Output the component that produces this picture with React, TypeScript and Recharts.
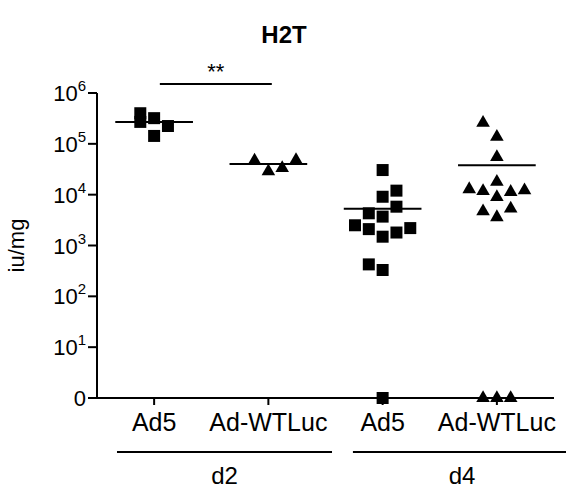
import React from "react";
import { ScatterChart, Scatter, XAxis, YAxis, ReferenceLine, ReferenceDot, Symbols } from "recharts";

const FONT = "Arial, 'Liberation Sans', sans-serif";

// categories along the x axis
const groups = ["Ad5", "Ad-WTLuc", "Ad5", "Ad-WTLuc"];
const days = ["d2", "d4"];
const yTicks = [1, 10, 100, 1e3, 1e4, 1e5, 1e6];

// iu/mg per animal (0 = below detection), with the jitter column used in the dot plot
const d2Ad5 = [4.0e5, 2.7e5, 3.2e5, 1.43e5, 2.24e5];
const d2Ad5Col = [-1, -1, 0, 0, 1];
const d2WT = [4.7e4, 2.88e4, 3.35e4, 4.8e4];
const d2WTCol = [-1, 0, 1, 2];
const d4Ad5 = [3.05e4, 1.2e4, 9.1e3, 5.8e3, 4.3e3, 3.7e3, 2.5e3, 2.1e3, 2.2e3, 1.8e3, 1.49e3, 425, 330, 0];
const d4Ad5Col = [0, 1, 0, 1, -1, 0, -2, -1, 2, 1, 0, -1, 0, 0];
const d4WT = [2.6e5, 1.37e5, 5.5e4, 1.78e4, 1.28e4, 1.17e4, 1.13e4, 1.22e4, 9.0e3, 5.3e3, 4.7e3, 3.6e3, 0, 0, 0];
const d4WTCol = [-1, 0, 0, 0, -2, -1, 1, 2, 0, 1, -1, 0, -1, 0, 1];

// group means (horizontal bars)
const means = [2.7e5, 4.0e4, 5.3e3, 3.8e4];

// day brackets under the axis: [from, to]
const dayBrackets = [
  [0.675, 2.557],
  [2.74, 4.65],
];

const JITTER = 0.121;
const MEAN_HALF = 0.34;
const BRACKET_Y = 0.0865;
const DAY_LABEL_Y = 0.03;
const SQ = 144;
const TRI = 80;

type Shape = "square" | "triangle";
const series: { g: number; vals: number[]; cols: number[]; shape: Shape }[] = [
  { g: 1, vals: d2Ad5, cols: d2Ad5Col, shape: "square" },
  { g: 2, vals: d2WT, cols: d2WTCol, shape: "triangle" },
  { g: 3, vals: d4Ad5, cols: d4Ad5Col, shape: "square" },
  { g: 4, vals: d4WT, cols: d4WTCol, shape: "triangle" },
];

// values of 0 sit on the "0" tick (bottom of the log axis)
const toPoints = (g: number, vals: number[], cols: number[], zero: boolean) =>
  vals
    .map((v, i) => ({ x: g + cols[i] * JITTER, y: v === 0 ? 1 : v, zero: v === 0 }))
    .filter((p) => p.zero === zero);

const marker = (shape: Shape) => (props: any) => (
  <Symbols cx={props.cx} cy={props.cy} type={shape} size={shape === "square" ? SQ : TRI} fill="#000" />
);

const YTick = ({ x, y, payload }: any) => {
  const v = payload.value;
  if (v === 1)
    return (
      <text x={x} y={y} dy={8} textAnchor="end" fontSize={22} fill="#000" fontFamily={FONT}>0</text>
    );
  const exp = Math.round(Math.log10(v));
  return (
    <text x={x} y={y} dy={8} textAnchor="end" fill="#000" fontFamily={FONT}>
      <tspan fontSize={22}>10</tspan>
      <tspan fontSize={15} dy={-10}>{exp}</tspan>
    </text>
  );
};

export default function App() {
  const axisStroke = { stroke: "#000", strokeWidth: 2 };
  return (
    <div style={{ position: "absolute", left: 0, top: 0, width: 566, height: 495, background: "#fff", fontFamily: FONT }}>
      <div style={{ position: "absolute", left: 0, width: 566, top: 21, textAlign: "center", paddingLeft: 2, boxSizing: "border-box", fontSize: 24, fontWeight: "bold" }}>
        H2T
      </div>
      <ScatterChart width={566} height={495} margin={{ top: 93, right: 12, bottom: 52, left: 0 }}>
        <XAxis
          type="number"
          dataKey="x"
          domain={[0.5, 4.5]}
          ticks={[1, 2, 3, 4]}
          tickFormatter={(v) => groups[v - 1] ?? ""}
          tick={{ fill: "#000", fontSize: 25, fontFamily: FONT }}
          tickSize={7}
          tickMargin={8}
          axisLine={axisStroke}
          tickLine={axisStroke}
          height={45}
        />
        <YAxis
          type="number"
          dataKey="y"
          scale="log"
          domain={[1, 1e6]}
          ticks={yTicks}
          tick={<YTick />}
          tickSize={9}
          axisLine={axisStroke}
          tickLine={axisStroke}
          width={97}
          label={{ value: "iu/mg", angle: -90, position: "insideLeft", offset: 16, style: { textAnchor: "middle", fontSize: 22, fill: "#000", fontFamily: FONT } }}
        />

        {series.map((s) => (
          <Scatter
            key={"s" + s.g}
            data={toPoints(s.g, s.vals, s.cols, false)}
            shape={marker(s.shape)}
            fill="#000"
            isAnimationActive={false}
          />
        ))}

        {series.flatMap((s) =>
          toPoints(s.g, s.vals, s.cols, true).map((p, i) => (
            <ReferenceDot
              key={"z" + s.g + "-" + i}
              x={p.x}
              y={p.y}
              ifOverflow="visible"
              shape={marker(s.shape)}
            />
          ))
        )}

        {means.map((m, i) => (
          <ReferenceLine
            key={"m" + i}
            segment={[{ x: i + 1 - MEAN_HALF, y: m }, { x: i + 1 + MEAN_HALF, y: m }]}
            stroke="#000"
            strokeWidth={2}
          />
        ))}

        <ReferenceLine
          segment={[{ x: 1.05, y: 1.5e6 }, { x: 2.03, y: 1.5e6 }]}
          stroke="#000"
          strokeWidth={2}
          ifOverflow="visible"
          label={{ value: "**", position: "top", fontSize: 22, fill: "#000", fontFamily: FONT }}
        />

        {dayBrackets.map(([a, b], i) => (
          <ReferenceLine
            key={"b" + i}
            segment={[{ x: a, y: BRACKET_Y }, { x: b, y: BRACKET_Y }]}
            stroke="#000"
            strokeWidth={2}
            ifOverflow="visible"
          />
        ))}
        {dayBrackets.map(([a, b], i) => (
          <ReferenceDot
            key={"d" + i}
            x={(a + b) / 2}
            y={DAY_LABEL_Y}
            r={0}
            fill="none"
            stroke="none"
            ifOverflow="visible"
            label={{ value: days[i], position: "center", fontSize: 24, fill: "#000", fontFamily: FONT }}
          />
        ))}
      </ScatterChart>
    </div>
  );
}
